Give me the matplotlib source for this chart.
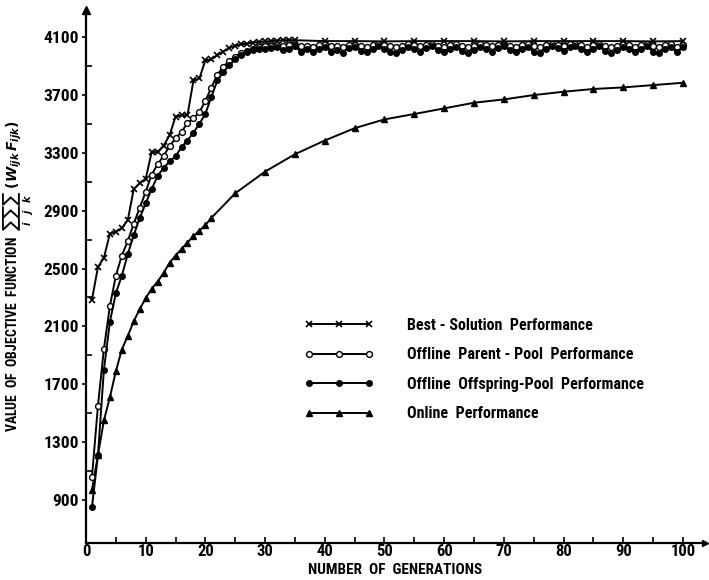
import numpy as np
import matplotlib
matplotlib.use("Agg")
import matplotlib.pyplot as plt
import matplotlib.font_manager as fm
from matplotlib.legend_handler import HandlerLine2D

# pick a narrow bold face if one is around, the scan uses a condensed lettering
installed = {f.name for f in fm.fontManager.ttflist}
narrow = [n for n in ['Roboto Condensed', 'Archivo Narrow', 'PT Sans Narrow',
                      'Liberation Sans Narrow', 'Barlow Condensed', 'Fira Sans Condensed',
                      'IBM Plex Sans Condensed', 'Open Sans Condensed', 'Oswald']
          if n in installed]
if narrow:
    plt.rcParams['font.family'] = [narrow[0], 'DejaVu Sans']
    scale = 1.0
else:
    plt.rcParams['font.family'] = ['DejaVu Sans']
    scale = 0.8
plt.rcParams['font.weight'] = 'bold'
plt.rcParams['mathtext.fontset'] = 'dejavusans'

# generations where each series has a point
gen_best = list(range(1, 36)) + list(range(40, 101, 5))
gen_pool = list(range(1, 101))
gen_online = list(range(1, 22)) + list(range(25, 101, 5))

best_solution = [
    2285, 2510, 2575, 2740, 2755, 2780, 2835, 3050, 3090, 3120,
    3305, 3305, 3350, 3420, 3550, 3560, 3560, 3800, 3815, 3940,
    3945, 3975, 4000, 4025, 4040, 4050, 4055, 4062, 4066, 4070,
    4072, 4075, 4078, 4080, 4078,
    4072, 4072, 4070, 4072, 4072, 4072, 4070, 4072, 4072, 4072, 4072, 4070, 4072,
]

parent_pool = [
    1060, 1550, 1945, 2240, 2450, 2590, 2690, 2810, 2920, 3030,
    3150, 3220, 3280, 3345, 3400, 3445, 3505, 3540, 3580, 3660,
    3750, 3840, 3895, 3935, 3965, 3988, 4005, 4018, 4028, 4035,
    4040, 4045, 4038, 4042, 4048, 4035, 4040, 4030, 4045, 4050,
    4035, 4040, 4028, 4045, 4048, 4038, 4030, 4042, 4050, 4045,
    4035, 4028, 4040, 4050, 4042, 4035, 4045, 4052, 4040, 4030,
    4042, 4050, 4038, 4028, 4040, 4050, 4045, 4035, 4048, 4052,
    4040, 4030, 4045, 4050, 4035, 4028, 4042, 4052, 4048, 4038,
    4050, 4055, 4042, 4030, 4045, 4052, 4038, 4028, 4040, 4050,
    4045, 4032, 4042, 4052, 4035, 4028, 4045, 4050, 4030, 4048,
]

offspring_pool = [
    850, 1210, 1800, 2130, 2330, 2450, 2600, 2730, 2850, 2950,
    3050, 3140, 3195, 3240, 3275, 3340, 3385, 3440, 3500, 3570,
    3685, 3800, 3858, 3905, 3945, 3975, 3995, 4008, 4015, 4020,
    4025, 4030, 4010, 4020, 4035, 4000, 4015, 3995, 4020, 4030,
    4000, 4010, 3990, 4025, 4030, 4005, 3995, 4015, 4035, 4020,
    4000, 3990, 4010, 4030, 4015, 4000, 4025, 4035, 4010, 3995,
    4015, 4030, 4005, 3990, 4010, 4030, 4020, 4000, 4025, 4035,
    4010, 3995, 4020, 4030, 4000, 3990, 4015, 4035, 4025, 4005,
    4030, 4040, 4015, 3995, 4020, 4035, 4005, 3990, 4010, 4030,
    4020, 3998, 4015, 4035, 4000, 3990, 4020, 4030, 3995, 4030,
]

online = [
    970, 1210, 1450, 1610, 1790, 1940, 2035, 2135, 2220, 2295,
    2360, 2410, 2470, 2540, 2590, 2635, 2680, 2725, 2762, 2800, 2850,
    3020, 3170, 3290, 3385, 3470, 3531, 3568, 3607, 3646, 3669,
    3699, 3722, 3741, 3752, 3768, 3784,
]

labels = ["Best - Solution  Performance",
          "Offline  Parent - Pool  Performance",
          "Offline  Offspring-Pool  Performance",
          "Online  Performance"]

fig = plt.figure(figsize=(7.09, 5.8), dpi=100)
ax = fig.add_axes([86 / 709, 37 / 580, 619 / 709, 533 / 580])

l4, = ax.plot(gen_online, online, color='black', lw=1.4, marker='^', ms=4.5)
l2, = ax.plot(gen_pool, parent_pool, color='black', lw=1.4, marker='o', ms=4.2,
              mfc='white', mew=1.0)
l3, = ax.plot(gen_pool, offspring_pool, color='black', lw=1.4, marker='o', ms=4)
l1, = ax.plot(gen_best, best_solution, color='black', lw=1.4, marker='x', ms=4.5, mew=1.2)

ax.set_xlim(0, 103.7)
ax.set_ylim(603, 4287)

ax.spines['top'].set_visible(False)
ax.spines['right'].set_visible(False)
ax.spines['left'].set_linewidth(1.6)
ax.spines['bottom'].set_linewidth(1.6)
ax.plot(0, 1, marker='^', color='black', ms=6, transform=ax.transAxes, clip_on=False)
ax.plot(1, 0, marker='>', color='black', ms=4, transform=ax.transAxes, clip_on=False)

ax.set_xticks(range(0, 101, 10))
ax.set_xticks(range(5, 100, 10), minor=True)
ax.set_yticks(range(900, 4101, 400))
ax.set_yticks(range(1100, 4000, 400), minor=True)
ax.tick_params(axis='x', which='both', direction='in', length=4, width=1.2,
               labelsize=12 * scale, pad=1)
ax.tick_params(axis='y', which='major', direction='out', length=3, width=1.2,
               labelsize=12.5 * scale, pad=2)
ax.tick_params(axis='y', which='minor', direction='in', length=4, width=1.2)

ax.set_xlabel("NUMBER  OF  GENERATIONS", fontsize=11 * scale, fontweight='bold')
ax.xaxis.set_label_coords(0.5, -20 / 533)
ax.set_ylabel(r"VALUE  OF  OBJECTIVE  FUNCTION  $\sum_{i}\sum_{j}\sum_{k}\ (W_{ijk}\,F_{ijk})$",
              fontsize=10 * scale, fontweight='bold')
ax.yaxis.set_label_coords(-50 / 619, 0.5)

handler = HandlerLine2D(numpoints=3, marker_pad=0.85)
ax.legend([l1, l2, l3, l4], labels, loc='upper left',
          bbox_to_anchor=(295 / 709, 1 - 318 / 580), bbox_transform=fig.transFigure,
          frameon=False, fontsize=11.5 * scale, handlelength=5.5 / scale,
          handletextpad=1.5 / scale, labelspacing=0.9 / scale, borderpad=0,
          borderaxespad=0,
          handler_map={l1: handler, l2: handler, l3: handler, l4: handler})

fig.savefig("out.png", dpi=100)
